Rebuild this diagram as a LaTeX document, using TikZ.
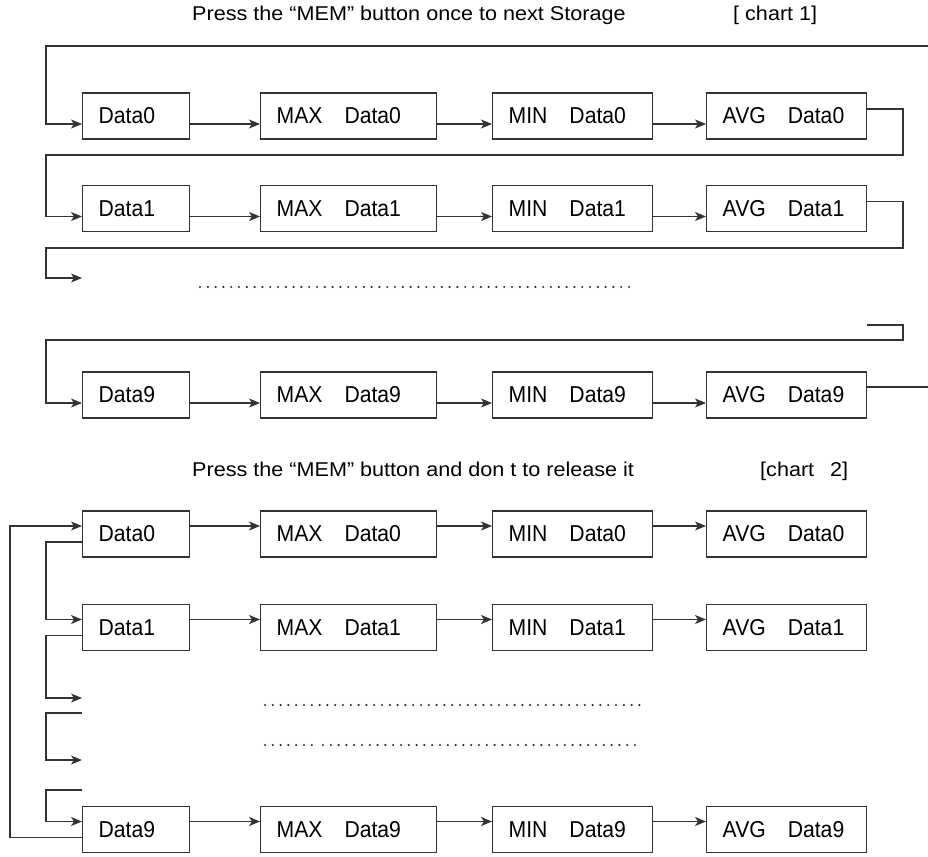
\documentclass[tikz,border=0pt]{standalone}
\usepackage{fontspec}
\setmainfont{Liberation Sans}
\usetikzlibrary{arrows.meta}

\tikzset{
  cell/.style={draw=black!80, line width=1.4pt, minimum height=46pt, inner xsep=16pt,
    align=left, anchor=west, font=\fontsize{23}{25}\selectfont\addfontfeatures{FakeStretch=0.92}},
  datacell/.style={cell, text width=75pt},
  maxcell/.style={cell, text width=144pt},
  statcell/.style={cell, text width=128pt},
  wire/.style={draw=black!80, line width=1.4pt},
  flow/.style={wire, -{Stealth[length=11pt,width=9pt,inset=3pt]}},
  dots/.style={black!80, line width=2.4pt, line cap=round, dash pattern=on 0pt off 7.8pt},
  caption/.style={anchor=base west, inner sep=0pt,
    font=\fontsize{20}{22}\selectfont\addfontfeatures{FakeStretch=1.08}}
}

\begin{document}
\begin{tikzpicture}[x=1pt, y=-1pt]
  \useasboundingbox (0,0) rectangle (928,856);

  % chart 1
  \node[caption] (title1) at (192,21) {Press the “MEM” button once to next Storage};
  \node[caption] (tag1) at (733,21) {[ chart 1]};

  \node[datacell] (d0) at (82,116) {Data0};
  \node[maxcell] (mx0) at (260,116) {MAX\hspace{22pt}Data0};
  \node[statcell] (mn0) at (492,116) {MIN\hspace{22pt}Data0};
  \node[statcell] (av0) at (706,116) {AVG\hspace{22pt}Data0};

  \node[datacell] (d1) at (82,208.5) {Data1};
  \node[maxcell] (mx1) at (260,208.5) {MAX\hspace{22pt}Data1};
  \node[statcell] (mn1) at (492,208.5) {MIN\hspace{22pt}Data1};
  \node[statcell] (av1) at (706,208.5) {AVG\hspace{22pt}Data1};

  \node[datacell] (d9) at (82,395) {Data9};
  \node[maxcell] (mx9) at (260,395) {MAX\hspace{22pt}Data9};
  \node[statcell] (mn9) at (492,395) {MIN\hspace{22pt}Data9};
  \node[statcell] (av9) at (706,395) {AVG\hspace{22pt}Data9};

  \coordinate (in1) at (928,46);
  \coordinate (gap1) at (82,278);
  \coordinate (stub9) at (867,325);
  \coordinate (out9) at (928,387);

  \draw[flow] (in1) -| ([xshift=-36pt,yshift=-8pt]d0.west) -- ([yshift=-8pt]d0.west);
  \draw[flow] ([yshift=-8pt]d0.east) -- ([yshift=-8pt]mx0.west);
  \draw[flow] ([yshift=-8pt]mx0.east) -- ([yshift=-8pt]mn0.west);
  \draw[flow] ([yshift=-8pt]mn0.east) -- ([yshift=-8pt]av0.west);
  \draw[flow] ([yshift=7pt]av0.east) -| (903,155) -| ([xshift=-36pt,yshift=-8pt]d1.west) -- ([yshift=-8pt]d1.west);

  \draw[flow] ([yshift=-8pt]d1.east) -- ([yshift=-8pt]mx1.west);
  \draw[flow] ([yshift=-8pt]mx1.east) -- ([yshift=-8pt]mn1.west);
  \draw[flow] ([yshift=-8pt]mn1.east) -- ([yshift=-8pt]av1.west);
  \draw[flow] ([yshift=7pt]av1.east) -| (903,248) -| (46,278) -- (gap1);

  \draw[dots] (200,287) -- (636,287);

  \draw[flow] (stub9) -| (903,340) -| ([xshift=-36pt,yshift=-8pt]d9.west) -- ([yshift=-8pt]d9.west);
  \draw[flow] ([yshift=-8pt]d9.east) -- ([yshift=-8pt]mx9.west);
  \draw[flow] ([yshift=-8pt]mx9.east) -- ([yshift=-8pt]mn9.west);
  \draw[flow] ([yshift=-8pt]mn9.east) -- ([yshift=-8pt]av9.west);
  \draw[wire] ([yshift=8pt]av9.east) -- (out9);

  % chart 2
  \node[caption] (title2) at (192,476) {Press the “MEM” button and don t to release it};
  \node[caption] (tag2) at (760,476) {[chart\hspace{16pt}2]};

  \node[datacell] (hd0) at (82,534) {Data0};
  \node[maxcell] (hmx0) at (260,534) {MAX\hspace{22pt}Data0};
  \node[statcell] (hmn0) at (492,534) {MIN\hspace{22pt}Data0};
  \node[statcell] (hav0) at (706,534) {AVG\hspace{22pt}Data0};

  \node[datacell] (hd1) at (82,627.5) {Data1};
  \node[maxcell] (hmx1) at (260,627.5) {MAX\hspace{22pt}Data1};
  \node[statcell] (hmn1) at (492,627.5) {MIN\hspace{22pt}Data1};
  \node[statcell] (hav1) at (706,627.5) {AVG\hspace{22pt}Data1};

  \node[datacell] (hd9) at (82,829.5) {Data9};
  \node[maxcell] (hmx9) at (260,829.5) {MAX\hspace{22pt}Data9};
  \node[statcell] (hmn9) at (492,829.5) {MIN\hspace{22pt}Data9};
  \node[statcell] (hav9) at (706,829.5) {AVG\hspace{22pt}Data9};

  \coordinate (gap2) at (82,698);
  \coordinate (stub2) at (82,713);
  \coordinate (gap3) at (82,760);
  \coordinate (stub3) at (82,790);

  \draw[flow] ([yshift=-8pt]hd9.west) -- ++(-72,0) |- ([yshift=8pt]hd0.west);
  \draw[flow] ([yshift=8pt]hd0.east) -- ([yshift=8pt]hmx0.west);
  \draw[flow] ([yshift=8pt]hmx0.east) -- ([yshift=8pt]hmn0.west);
  \draw[flow] ([yshift=8pt]hmn0.east) -- ([yshift=8pt]hav0.west);
  \draw[flow] ([yshift=-8pt]hd0.west) -- ++(-36,0) |- ([yshift=8pt]hd1.west);

  \draw[flow] ([yshift=8pt]hd1.east) -- ([yshift=8pt]hmx1.west);
  \draw[flow] ([yshift=8pt]hmx1.east) -- ([yshift=8pt]hmn1.west);
  \draw[flow] ([yshift=8pt]hmn1.east) -- ([yshift=8pt]hav1.west);
  \draw[flow] ([yshift=-8pt]hd1.west) -- ++(-36,0) |- (gap2);

  \draw[flow] (stub2) -- ++(-36,0) |- (gap3);
  \draw[flow] (stub3) -- ++(-36,0) |- ([yshift=8pt]hd9.west);

  \draw[dots] (265,705) -- (640,705);
  \draw[dots] (265,745) -- (315,745);
  \draw[dots] (323,745) -- (640,745);

  \draw[flow] ([yshift=8pt]hd9.east) -- ([yshift=8pt]hmx9.west);
  \draw[flow] ([yshift=8pt]hmx9.east) -- ([yshift=8pt]hmn9.west);
  \draw[flow] ([yshift=8pt]hmn9.east) -- ([yshift=8pt]hav9.west);
\end{tikzpicture}
\end{document}
